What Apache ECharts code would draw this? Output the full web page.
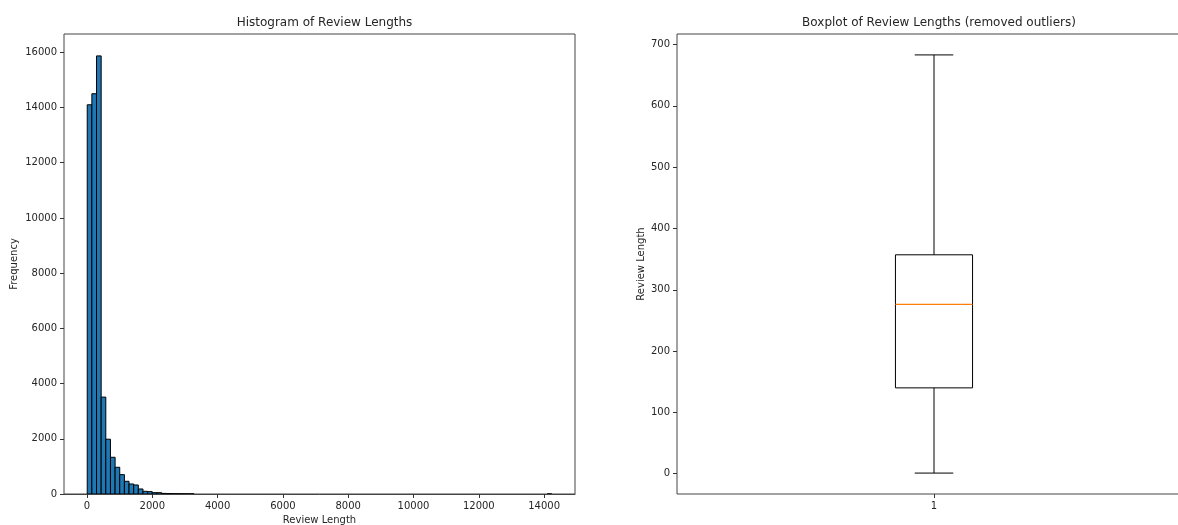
<!DOCTYPE html>
<html>
<head>
<meta charset="utf-8">
<script src="https://cdn.jsdelivr.net/npm/echarts@6/dist/echarts.min.js"></script>
<style>
  html, body { margin: 0; padding: 0; background: #fff; }
  #chart { width: 1178px; height: 525px; }
</style>
</head>
<body>
<div id="chart"></div>
<script>
// Histogram: 100 equal-width bins spanning the review lengths
const lengthMin = 7;
const lengthMax = 14234;
const binCounts = [
  14100, 14500, 15870, 3510, 1985, 1330, 968, 702, 460, 363,
  327, 182, 97, 85, 48, 48, 22, 18, 12, 10,
  8, 6, 5, 0, 0, 0, 0, 0, 0, 0,
  0, 0, 0, 0, 0, 0, 0, 0, 0, 0,
  0, 0, 0, 0, 0, 0, 0, 0, 0, 0,
  0, 0, 0, 0, 0, 0, 0, 0, 0, 0,
  0, 0, 0, 0, 0, 0, 0, 0, 0, 0,
  0, 0, 0, 0, 0, 0, 0, 0, 0, 0,
  0, 0, 0, 0, 0, 0, 0, 0, 0, 0,
  0, 0, 0, 0, 0, 0, 0, 0, 0, 1
];
const histXTicks = [0, 2000, 4000, 6000, 8000, 10000, 12000, 14000];
const histYTicks = [0, 2000, 4000, 6000, 8000, 10000, 12000, 14000, 16000];

// Boxplot summary (outliers removed)
const boxPosition = 1;
const whiskerLow = 1;
const quartile1 = 140;
const medianLength = 276;
const quartile3 = 357;
const whiskerHigh = 683;
const boxYTicks = [0, 100, 200, 300, 400, 500, 600, 700];

const binWidth = (lengthMax - lengthMin) / binCounts.length;
const histRows = binCounts.map((c, i) => [lengthMin + i * binWidth, lengthMin + (i + 1) * binWidth, c])
  .filter(r => r[2] > 0);

// axis limits with 5% padding on the data range
const xPad = (lengthMax - lengthMin) * 0.05;
const histYMax = Math.max(...binCounts) * 1.05;
const yPad = (whiskerHigh - whiskerLow) * 0.05;

const font = 'DejaVu Sans';
const txt = '#262626';
const spine = '#444';
const tickStyle = { show: true, inside: false, length: 4, lineStyle: { color: '#333', width: 1 } };
const labelBase = { color: txt, fontSize: 10, fontFamily: font, margin: 7, formatter: v => String(v) };
const nameStyle = { color: txt, fontSize: 10, fontFamily: font };

const chart = echarts.init(document.getElementById('chart'), null, { renderer: 'canvas' });

chart.setOption({
  backgroundColor: '#fff',
  animation: false,
  title: [
    { text: 'Histogram of Review Lengths', left: 319.5, top: 12, textAlign: 'center',
      textStyle: { fontSize: 12, fontWeight: 'normal', fontFamily: font, color: txt } },
    { text: 'Boxplot of Review Lengths (removed outliers)', left: 934, top: 12, textAlign: 'center',
      textStyle: { fontSize: 12, fontWeight: 'normal', fontFamily: font, color: txt } }
  ],
  grid: [
    { left: 64, top: 34, width: 511, height: 460, outerBoundsMode: 'none', containLabel: false,
      show: true, borderColor: spine, borderWidth: 1, backgroundColor: '#fff' },
    { left: 677, top: 34, width: 514, height: 460, outerBoundsMode: 'none', containLabel: false,
      show: true, borderColor: spine, borderWidth: 1, backgroundColor: '#fff' }
  ],
  xAxis: [
    { type: 'value', gridIndex: 0, min: lengthMin - xPad, max: lengthMax + xPad, z: 5,
      name: 'Review Length', nameLocation: 'middle', nameGap: 20, nameTextStyle: nameStyle,
      axisLine: { show: true, onZero: false, lineStyle: { color: spine, width: 1 } },
      splitLine: { show: false },
      axisTick: Object.assign({ customValues: histXTicks }, tickStyle),
      axisLabel: Object.assign({ customValues: histXTicks }, labelBase) },
    { type: 'value', gridIndex: 1, min: boxPosition - 0.5, max: boxPosition + 0.5,
      axisLine: { show: false, onZero: false }, splitLine: { show: false },
      axisTick: Object.assign({ customValues: [boxPosition] }, tickStyle),
      axisLabel: Object.assign({ customValues: [boxPosition] }, labelBase) }
  ],
  yAxis: [
    { type: 'value', gridIndex: 0, min: 0, max: histYMax,
      name: 'Frequency', nameLocation: 'middle', nameGap: 45, nameRotate: 90, nameTextStyle: nameStyle,
      axisLine: { show: false, onZero: false }, splitLine: { show: false },
      axisTick: Object.assign({ customValues: histYTicks }, tickStyle),
      axisLabel: Object.assign({ customValues: histYTicks }, labelBase) },
    { type: 'value', gridIndex: 1, min: whiskerLow - yPad, max: whiskerHigh + yPad,
      name: 'Review Length', nameLocation: 'middle', nameGap: 31, nameRotate: 90, nameTextStyle: nameStyle,
      axisLine: { show: false, onZero: false }, splitLine: { show: false },
      axisTick: Object.assign({ customValues: boxYTicks }, tickStyle),
      axisLabel: Object.assign({ customValues: boxYTicks }, labelBase) }
  ],
  series: [
    {
      type: 'custom', xAxisIndex: 0, yAxisIndex: 0, z: 2,
      encode: { x: [0, 1], y: 2 },
      data: histRows,
      renderItem(params, api) {
        const p0 = api.coord([api.value(0), api.value(2)]);
        const p1 = api.coord([api.value(1), 0]);
        return {
          type: 'rect',
          shape: { x: p0[0], y: p0[1], width: p1[0] - p0[0], height: p1[1] - p0[1] },
          style: { fill: '#1f77b4', stroke: '#000', lineWidth: 1 }
        };
      }
    },
    {
      type: 'custom', xAxisIndex: 1, yAxisIndex: 1,
      encode: { x: 0, y: [1, 2, 3, 4, 5] },
      data: [[boxPosition, whiskerLow, quartile1, medianLength, quartile3, whiskerHigh]],
      renderItem(params, api) {
        const xc = api.value(0);
        const half = 0.075, capHalf = 0.0375;
        const lo = api.coord([xc, api.value(1)]);
        const q1 = api.coord([xc - half, api.value(2)]);
        const q1r = api.coord([xc + half, api.value(2)]);
        const med = api.coord([xc - half, api.value(3)]);
        const medR = api.coord([xc + half, api.value(3)]);
        const q3 = api.coord([xc - half, api.value(4)]);
        const hi = api.coord([xc, api.value(5)]);
        const capL = api.coord([xc - capHalf, 0])[0];
        const capR = api.coord([xc + capHalf, 0])[0];
        const line = { stroke: '#000', lineWidth: 1 };
        return {
          type: 'group',
          children: [
            { type: 'line', shape: { x1: lo[0], y1: lo[1], x2: lo[0], y2: q1[1] }, style: line },
            { type: 'line', shape: { x1: hi[0], y1: hi[1], x2: hi[0], y2: q3[1] }, style: line },
            { type: 'line', shape: { x1: capL, y1: lo[1], x2: capR, y2: lo[1] }, style: line },
            { type: 'line', shape: { x1: capL, y1: hi[1], x2: capR, y2: hi[1] }, style: line },
            { type: 'rect', shape: { x: q3[0], y: q3[1], width: q1r[0] - q1[0], height: q1[1] - q3[1] },
              style: { fill: 'none', stroke: '#000', lineWidth: 1 } },
            { type: 'line', shape: { x1: med[0], y1: med[1], x2: medR[0], y2: medR[1] },
              style: { stroke: '#ff7f0e', lineWidth: 1.2 } }
          ]
        };
      }
    }
  ]
});
</script>
</body>
</html>
